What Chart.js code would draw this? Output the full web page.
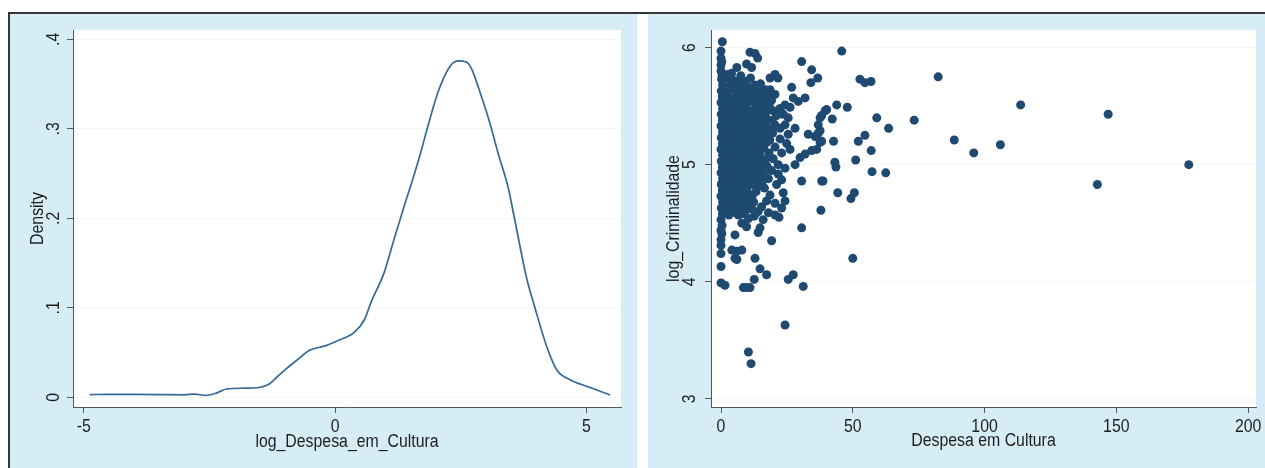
<!DOCTYPE html>
<html>
<head>
<meta charset="utf-8">
<script src="https://cdn.jsdelivr.net/npm/chart.js@4.4.1/dist/chart.umd.min.js"></script>
<style>
  html, body { margin: 0; padding: 0; background: #fff; width: 1265px; height: 468px; overflow: hidden; }
  .panel { position: absolute; top: 14px; height: 454px; background: #d6edf6; }
  #densPanel { left: 10px; width: 627px; }
  #scatPanel { left: 648px; width: 617px; }
  .rule { position: absolute; background: #363636; }
  #ruleTop { left: 8px; top: 12px; width: 1257px; height: 2px; }
  #ruleLeft { left: 8px; top: 12px; width: 2px; height: 456px; }
  canvas { display: block; }
</style>
</head>
<body>
<div class="panel" id="densPanel"><canvas id="densChart" width="627" height="454"></canvas></div>
<div class="panel" id="scatPanel"><canvas id="scatChart" width="617" height="454"></canvas></div>
<div class="rule" id="ruleTop"></div>
<div class="rule" id="ruleLeft"></div>

<script>
// kernel density of log_Despesa_em_Cultura
const densX = [-4.88, -4.5, -4.0, -3.5, -3.0, -2.8, -2.57, -2.35, -2.16, -1.8, -1.51, -1.31, -1.15, -0.98,
  -0.75, -0.5, -0.3, -0.17, 0.07, 0.38, 0.58, 0.72, 0.97, 1.17, 1.37, 1.53, 1.7, 1.86, 2.06, 2.3, 2.45,
  2.6, 2.71, 2.91, 3.08, 3.24, 3.44, 3.56, 3.81, 3.97, 4.21, 4.41, 4.66, 5.03, 5.47];
const densY = [0.003, 0.0034, 0.0032, 0.003, 0.0028, 0.0036, 0.0022, 0.005, 0.0093, 0.0102, 0.011, 0.015, 0.023, 0.0315,
  0.042, 0.0528, 0.056, 0.058, 0.0637, 0.0725, 0.0864, 0.107, 0.1385, 0.176, 0.213, 0.241, 0.273, 0.306, 0.343, 0.371, 0.376,
  0.375, 0.3676, 0.336, 0.306, 0.273, 0.235, 0.202, 0.133, 0.101, 0.0565, 0.0305, 0.02, 0.0118, 0.0026];
const densXTicks = [-5, 0, 5];
const densXLabels = ['-5', '0', '5'];
const densYTicks = [0, 0.1, 0.2, 0.3, 0.4];
const densYLabels = ['0', '.1', '.2', '.3', '.4'];

// Despesa em Cultura vs log_Criminalidade, the packed core near zero spending
const corePts = [
  [0.2,5.73],[2.6,5.74],[4.7,5.72],[7.3,5.73],[9.4,5.71],[11.2,5.74],
  [0.6,5.68],[3.1,5.67],[5.4,5.69],[8.1,5.68],[10.3,5.66],[12.8,5.68],[15.0,5.69],
  [0.1,5.63],[2.4,5.62],[5.1,5.64],[7.4,5.63],[9.9,5.61],[12.2,5.63],[14.7,5.62],[16.9,5.64],
  [0.5,5.58],[2.9,5.57],[5.5,5.59],[7.8,5.58],[10.2,5.56],[12.9,5.58],[15.2,5.57],[17.5,5.59],
  [0.0,5.53],[2.5,5.52],[4.8,5.54],[7.2,5.53],[9.8,5.52],[12.1,5.54],[14.4,5.52],[16.8,5.53],[18.3,5.51],
  [0.6,5.48],[3.0,5.47],[5.6,5.49],[8.0,5.48],[10.5,5.46],[12.9,5.48],[15.3,5.47],[17.7,5.49],
  [0.1,5.43],[2.5,5.42],[5.0,5.44],[7.5,5.43],[9.9,5.41],[12.4,5.43],[14.8,5.42],[16.9,5.44],
  [0.5,5.38],[3.0,5.37],[5.4,5.39],[7.8,5.38],[10.2,5.36],[12.7,5.38],[15.1,5.37],[17.4,5.39],[19.4,5.38],
  [0.0,5.33],[2.4,5.32],[4.9,5.34],[7.3,5.33],[9.8,5.31],[12.2,5.33],[14.6,5.32],[16.9,5.34],
  [0.6,5.28],[3.1,5.27],[5.5,5.29],[7.9,5.28],[10.4,5.26],[12.8,5.28],[15.2,5.27],[17.6,5.29],[19.6,5.27],
  [0.1,5.23],[2.5,5.22],[5.0,5.24],[7.4,5.23],[9.8,5.21],[12.3,5.23],[14.7,5.22],[16.9,5.24],
  [0.5,5.18],[2.9,5.17],[5.4,5.19],[7.9,5.18],[10.3,5.16],[12.7,5.18],[15.2,5.17],[17.4,5.19],
  [0.0,5.13],[2.4,5.12],[4.9,5.14],[7.3,5.13],[9.7,5.11],[12.2,5.13],[14.6,5.12],[16.2,5.14],
  [0.6,5.08],[3.0,5.07],[5.5,5.09],[7.9,5.08],[10.4,5.06],[12.8,5.08],[15.0,5.07],
  [0.1,5.03],[2.5,5.02],[5.0,5.04],[7.4,5.03],[9.8,5.01],[12.2,5.03],[14.7,5.02],[16.8,5.04],
  [0.5,4.98],[3.0,4.97],[5.4,4.99],[7.8,4.98],[10.3,4.96],[12.7,4.98],[15.0,4.97],
  [0.0,4.93],[2.4,4.92],[4.9,4.94],[7.3,4.93],[9.7,4.91],[12.1,4.93],[14.0,4.92],
  [0.6,4.88],[3.0,4.87],[5.5,4.89],[7.9,4.88],[10.4,4.86],[12.8,4.88],
  [0.1,4.83],[2.5,4.82],[5.0,4.84],[7.4,4.83],[9.8,4.81],[12.2,4.83],[14.3,4.82],
  [0.5,4.78],[3.0,4.77],[5.4,4.79],[7.8,4.78],[10.2,4.76],
  [0.0,4.73],[2.4,4.72],[4.9,4.74],[7.3,4.73],[9.6,4.71],[11.8,4.73],
  [0.6,4.68],[3.0,4.67],[5.5,4.69],[7.8,4.68],[10.0,4.66],
  [0.1,4.63],[2.5,4.62],[4.9,4.64],[7.2,4.63],[9.4,4.61],
  [0.5,4.58],[3.0,4.57],[5.4,4.59],[7.9,4.58]
];
// points around the core, up to about 40
const edgePts = [
  [0.5,6.05],[0.0,5.97],[0.0,5.91],[0.3,5.88],[0.0,5.85],[0.0,5.80],[0.4,5.76],[2.5,5.77],[4.0,5.78],[7.5,5.76],
  [11.0,5.96],[12.9,5.95],[13.9,5.91],[6.0,5.83],[9.7,5.86],[11.6,5.83],
  [30.6,5.88],[34.4,5.81],[36.7,5.74],[34.1,5.70],[26.8,5.66],[18.6,5.74],[20.5,5.77],[21.6,5.74],
  [39.5,5.46],[37.6,5.40],[27.4,5.57],[29.3,5.54],[31.9,5.57],[24.3,5.51],[26.2,5.49],
  [33.1,5.26],[35.7,5.24],[37.6,5.29],[38.2,5.20],[20.5,5.34],[22.4,5.31],[24.3,5.34],[25.5,5.26],[28.1,5.31],
  [34.4,5.12],[31.9,5.09],[30.0,5.06],[28.1,5.00],[30.6,4.86],[38.2,4.86],
  [21.7,4.92],[23.0,4.87],[21.1,4.83],[23.6,4.76],[24.3,4.69],[20.5,4.67],[23.0,4.63],
  [18.6,5.64],[20.5,5.60],[19.2,5.55],[22.4,5.48],[19.8,5.46],[21.1,5.42],[23.6,5.43],[25.5,5.40],
  [22.4,5.22],[24.9,5.18],[20.5,5.15],[23.0,5.10],[26.2,5.13],[19.8,5.05],[21.7,5.00],[24.3,4.97],
  [19.2,4.95],[18.0,4.88],[16.5,4.80],[18.6,4.74],[17.3,4.69],[15.4,4.64],[18.0,4.59],[14.1,4.60],
  [12.6,4.56],[16.0,4.53],[20.5,4.57],[22.0,4.55],[0.0,4.53],[0.4,4.48],[0.0,4.44],
  [18.9,5.30],[18.5,5.21],[18.2,5.10],[17.4,4.99],[16.4,4.92],[15.8,4.86],[13.3,4.77],[12.4,4.68],[11.8,4.62]
];
// low tail under log_Criminalidade 4.5
const lowPts = [
  [30.6,4.46],[19.2,4.35],[14.1,4.42],[14.8,4.46],[9.7,4.47],[7.9,4.50],[6.6,4.57],[10.4,4.54],[5.3,4.40],
  [0.3,4.41],[0.0,4.36],[0.0,4.31],[0.0,4.24],[4.1,4.27],[6.0,4.26],[7.9,4.27],[5.3,4.20],[6.0,4.19],
  [12.9,4.20],[0.0,4.13],[14.8,4.11],[17.3,4.06],[12.6,4.02],[25.5,4.02],[27.4,4.06],[31.2,3.96],
  [0.0,3.99],[1.5,3.97],[8.5,3.95],[9.7,3.95],[11.0,3.95],[24.3,3.63],[10.4,3.40],[11.4,3.30]
];
// sparse high-spending municipalities
const farPts = [
  [45.8,5.97],[82.4,5.75],[52.7,5.73],[54.6,5.70],[56.9,5.71],[113.7,5.51],[146.9,5.43],[43.9,5.51],
  [47.9,5.49],[40.1,5.47],[38.2,5.42],[42.2,5.39],[59.1,5.40],[73.3,5.38],[63.6,5.31],[36.9,5.34],
  [54.6,5.25],[52.1,5.20],[42.7,5.20],[36.9,5.27],[37.6,5.19],[36.3,5.13],[88.5,5.21],[106.0,5.17],
  [95.9,5.10],[57.0,5.12],[51.1,5.04],[43.2,5.02],[43.6,4.98],[57.3,4.94],[62.5,4.93],[177.5,5.00],
  [142.8,4.83],[38.7,4.86],[44.3,4.76],[50.6,4.76],[49.3,4.71],[37.9,4.61],[50.0,4.20]
];
const scatXTicks = [0, 50, 100, 150, 200];
const scatXLabels = ['0', '50', '100', '150', '200'];
const scatYTicks = [3, 4, 5, 6];
const scatYLabels = ['3', '4', '5', '6'];

const FONT = '"Liberation Sans", Arial, sans-serif';
const TEXT = '#1e1e1e';
const AXIS = '#555555';
const NAVY = '#1e4a72';

// white plot region, like Stata's plotregion
const plotBg = {
  id: 'plotBg',
  beforeDraw(chart) {
    const { ctx, chartArea: a } = chart;
    ctx.save();
    ctx.fillStyle = '#ffffff';
    ctx.fillRect(a.left, a.top, a.right - a.left, a.bottom - a.top);
    ctx.restore();
  }
};

// narrow Stata-style text: glyphs squeezed along the writing direction
function narrowText(ctx, str, x, y, rot) {
  ctx.save();
  ctx.translate(x, y);
  if (rot) ctx.rotate(rot);
  ctx.scale(0.88, 1);
  ctx.fillText(str, 0, 0);
  ctx.restore();
}

// tick labels and axis titles, placed from the chart's own scales
const axisText = {
  id: 'axisText',
  afterDraw(chart, args, o) {
    const { ctx, chartArea: a } = chart;
    const sx = chart.scales.x, sy = chart.scales.y;
    ctx.save();
    ctx.font = '18px ' + FONT;
    ctx.fillStyle = TEXT;
    ctx.textAlign = 'center';
    ctx.textBaseline = 'middle';
    sx.ticks.forEach((t, i) => narrowText(ctx, o.xLabels[i], sx.getPixelForValue(t.value), o.xLabelY));
    sy.ticks.forEach((t, i) => narrowText(ctx, o.yLabels[i], o.yLabelX, sy.getPixelForValue(t.value), -Math.PI / 2));
    narrowText(ctx, o.xTitle, (a.left + a.right) / 2, o.xTitleY);
    narrowText(ctx, o.yTitle, o.yTitleX, (a.top + a.bottom) / 2, -Math.PI / 2);
    ctx.restore();
  }
};

function axisX(min, max, ticks) {
  return {
    type: 'linear', min, max,
    afterBuildTicks: s => { s.ticks = ticks.map(v => ({ value: v })); },
    afterFit: s => { s.height = 61; },
    border: { display: true, color: AXIS, width: 1 },
    grid: { drawOnChartArea: false, drawTicks: true, tickLength: 6, tickColor: AXIS },
    ticks: { display: false }
  };
}

function axisY(min, max, ticks) {
  return {
    type: 'linear', min, max,
    afterBuildTicks: s => { s.ticks = ticks.map(v => ({ value: v })); },
    afterFit: s => { s.width = 63; },
    border: { display: true, color: AXIS, width: 1 },
    grid: { color: '#f2f6f7', drawTicks: true, tickLength: 6, tickColor: AXIS },
    ticks: { display: false }
  };
}

new Chart(document.getElementById('densChart'), {
  type: 'line',
  data: {
    datasets: [{
      data: densX.map((x, i) => ({ x, y: densY[i] })),
      borderColor: '#346a95',
      borderWidth: 1.7,
      pointRadius: 0,
      cubicInterpolationMode: 'monotone',
      fill: false
    }]
  },
  options: {
    responsive: false,
    animation: false,
    devicePixelRatio: 1,
    layout: { padding: { top: 16, right: 16, bottom: 0, left: 0 } },
    plugins: {
      legend: { display: false },
      tooltip: { enabled: false },
      axisText: {
        xLabels: densXLabels, yLabels: densYLabels,
        xTitle: 'log_Despesa_em_Cultura', yTitle: 'Density',
        xLabelY: 413, xTitleY: 428, yLabelX: 44, yTitleX: 28
      }
    },
    scales: {
      x: axisX(-5.213, 5.686, densXTicks),
      y: axisY(-0.0108, 0.4104, densYTicks)
    }
  },
  plugins: [plotBg, axisText]
});

const allPts = [...corePts, ...edgePts, ...lowPts, ...farPts];

new Chart(document.getElementById('scatChart'), {
  type: 'scatter',
  data: {
    datasets: [{
      data: allPts.map(p => ({ x: p[0], y: p[1] })),
      backgroundColor: NAVY,
      borderWidth: 0,
      pointRadius: 4.5
    }]
  },
  options: {
    responsive: false,
    animation: false,
    devicePixelRatio: 1,
    layout: { padding: { top: 16, right: 9, bottom: 0, left: 0 } },
    plugins: {
      legend: { display: false },
      tooltip: { enabled: false },
      axisText: {
        xLabels: scatXLabels, yLabels: scatYLabels,
        xTitle: 'Despesa em Cultura', yTitle: 'log_Criminalidade',
        xLabelY: 413, xTitleY: 427, yLabelX: 42, yTitleX: 26
      }
    },
    scales: {
      x: axisX(-3.8, 203, scatXTicks),
      y: axisY(2.93, 6.15, scatYTicks)
    }
  },
  plugins: [plotBg, axisText]
});
</script>
</body>
</html>
